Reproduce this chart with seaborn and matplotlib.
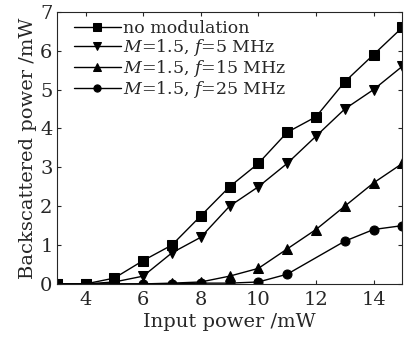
import numpy as np
import pandas as pd
import matplotlib
matplotlib.use("Agg")
import matplotlib.pyplot as plt
import seaborn as sns

# data
x_in = [3, 4, 5, 6, 7, 8, 9, 10, 11, 12, 13, 14, 15]
no_mod = [0, 0, 0.15, 0.6, 1.0, 1.75, 2.5, 3.1, 3.9, 4.3, 5.2, 5.9, 6.6]
f5 = [0, 0, 0.05, 0.2, 0.8, 1.2, 2.0, 2.5, 3.1, 3.8, 4.5, 5.0, 5.6]
f15 = [0, 0, 0, 0, 0.02, 0.05, 0.2, 0.4, 0.9, 1.4, 2.0, 2.6, 3.1]
x_25 = [3, 4, 5, 6, 7, 8, 9, 10, 11, 13, 14, 15]
f25 = [0, 0, 0, 0, 0, 0.02, 0.02, 0.05, 0.25, 1.1, 1.4, 1.5]

sns.set_style("ticks")
plt.rcParams['font.family'] = ['DejaVu Serif']
plt.rcParams['mathtext.fontset'] = 'dejavuserif'

fig, ax = plt.subplots(figsize=(4.14, 3.38), dpi=100)

series = [
    (x_in, no_mod, 's', 'no modulation'),
    (x_in, f5, 'v', r'$M$=1.5, $f$=5 MHz'),
    (x_in, f15, '^', r'$M$=1.5, $f$=15 MHz'),
    (x_25, f25, 'o', r'$M$=1.5, $f$=25 MHz'),
]
for xs, ys, mk, lab in series:
    df = pd.DataFrame({'x': xs, 'y': ys})
    sns.lineplot(data=df, x='x', y='y', ax=ax, color='black', marker=mk,
                 markersize=6.5, linewidth=1.0, label=lab, markeredgecolor='black')

ax.set_xlim(3, 15)
ax.set_ylim(0, 7)
ax.set_xticks([4, 6, 8, 10, 12, 14])
ax.set_yticks(range(0, 8))
ax.tick_params(direction='in', labelsize=14, length=3, width=0.8,
               top=True, right=True)
ax.tick_params(axis='x', pad=5)
ax.tick_params(axis='y', pad=3)
for s in ax.spines.values():
    s.set_linewidth(0.8)
    s.set_visible(True)
ax.set_xlabel('Input power /mW', fontsize=14, labelpad=3)
ax.set_ylabel('Backscattered power /mW', fontsize=14, labelpad=2)
ax.legend(loc='upper left', frameon=False, fontsize=12.5, handlelength=2.7,
          handletextpad=0.1, labelspacing=0.0, borderaxespad=0.0,
          markerscale=0.8, bbox_to_anchor=(0.03, 0.995))

fig.subplots_adjust(left=0.137, right=0.972, top=0.965, bottom=0.16)
fig.savefig('out.png', dpi=100)
